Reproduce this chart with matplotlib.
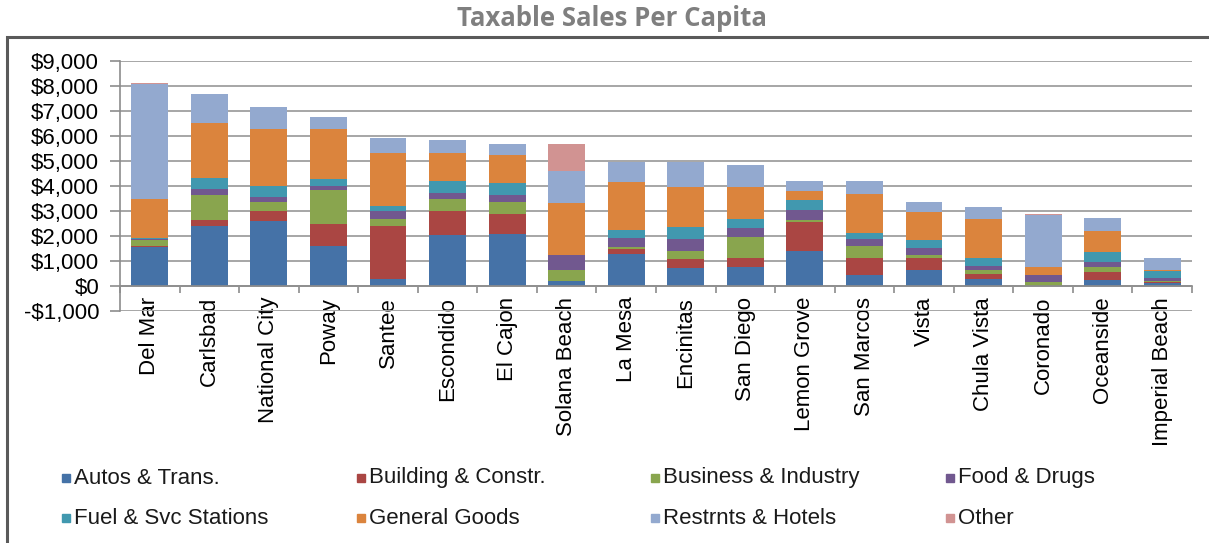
import matplotlib
matplotlib.use("Agg")
import matplotlib.pyplot as plt
from matplotlib.patches import Rectangle
from matplotlib.ticker import FuncFormatter, MultipleLocator
import numpy as np

cities = ["Del Mar", "Carlsbad", "National City", "Poway", "Santee", "Escondido",
          "El Cajon", "Solana Beach", "La Mesa", "Encinitas", "San Diego",
          "Lemon Grove", "San Marcos", "Vista", "Chula Vista", "Coronado",
          "Oceanside", "Imperial Beach"]

autos    = [1550, 2400, 2600, 1600,  270, 2015, 2085,  175, 1280,  710,  750, 1390,  425,  640,  265,    0,  215, 120]
building = [  30,  215,  375,  870, 2135,  960,  800,   10,  175,  360,  370, 1175,  695,  480,  215,    0,  320,  15]
business = [ 250, 1000,  375, 1360,  255,  480,  465,  455,   95,  320,  840,   65,  480,  105,  160,  160,  215,  40]
food     = [  50,  240,  215,  160,  320,  265,  270,  590,  375,  480,  335,  400,  265,  270,  160,  265,  215, 145]
fuel     = [  20,  470,  440,  265,  225,  480,  480,    0,  320,  480,  360,  390,  265,  320,  320,    0,  375, 265]
general  = [1570, 2175, 2285, 2030, 2125, 1120, 1120, 2080, 1910, 1600, 1295,  375, 1550, 1120, 1535,  320,  855,  55]
restr    = [4590, 1160,  880,  480,  575,  535,  465, 1270,  800, 1000,  895,  415,  520,  415,  480, 2080,  535, 480]
other    = [  40,    0,    0,    0,    0,    0,    0, 1110,    0,    0,    0,    0,    0,    0,    0,   55,    0,   0]

series_names = ["Autos & Trans.", "Building & Constr.", "Business & Industry",
                "Food & Drugs", "Fuel & Svc Stations", "General Goods",
                "Restrnts & Hotels", "Other"]
series_values = [autos, building, business, food, fuel, general, restr, other]
series_colors = ["#4572A7", "#AA4643", "#89A54E", "#71588F",
                 "#4198AF", "#DB843D", "#93A9CF", "#D19392"]

plt.rcParams["font.family"] = ["Liberation Sans", "DejaVu Sans"]
FS = 16

W, H = 1209, 543
fig = plt.figure(figsize=(W / 100, H / 100), dpi=100)

# outer chart frame (continues past the right and bottom edges)
fig.patches.append(Rectangle((7 / W, -0.1), 1.2, 1 - 37 / H + 0.1,
                             transform=fig.transFigure, fill=False,
                             edgecolor="#5a5a5a", linewidth=2.2, zorder=0))

fig.text(612 / W, 1 - 18 / H, "Taxable Sales Per Capita", ha="center", va="center",
         fontsize=18.5, fontweight="bold", color="#7f7f7f", family="Open Sans")

ax = fig.add_axes([120 / W, 1 - 310.7 / H, (1192 - 120) / W, (310.7 - 61) / H])

x = np.arange(len(cities))
bottom = np.zeros(len(cities))
for name, vals, col in zip(series_names, series_values, series_colors):
    vals = np.array(vals, dtype=float)
    ax.bar(x, vals, width=0.62, bottom=bottom, color=col, label=name,
           edgecolor="none", zorder=3)
    bottom += vals

ax.set_xlim(-0.5, len(cities) - 0.5)
ax.set_ylim(-1000, 9000)
ax.yaxis.set_major_locator(MultipleLocator(1000))
ax.yaxis.set_major_formatter(FuncFormatter(
    lambda v, p: ("-$" if v < 0 else "$") + f"{abs(int(v)):,}"))
ax.grid(axis="y", color="#a6a6a6", linewidth=1.4, zorder=0)

for s in ["top", "right"]:
    ax.spines[s].set_visible(False)
ax.spines["left"].set_color("#8c8c8c")
ax.spines["left"].set_linewidth(1.2)
ax.spines["bottom"].set_position(("data", 0))
ax.spines["bottom"].set_color("#8c8c8c")
ax.spines["bottom"].set_linewidth(1.2)
ax.spines["bottom"].set_zorder(4)

ax.set_xticks(x)
ax.set_xticklabels(cities, rotation=90, fontsize=FS)
ax.set_xticks(np.arange(len(cities) + 1) - 0.5, minor=True)
ax.tick_params(axis="x", which="major", length=0, pad=8)
ax.tick_params(axis="x", which="minor", length=5, width=1.2, color="#8c8c8c")
ax.tick_params(axis="y", length=7, width=1.2, color="#8c8c8c", labelsize=FS, pad=8)
for lab in ax.get_xticklabels():
    lab.set_verticalalignment("top")

# legend laid out in four evenly spaced columns
col_x = [62, 357, 651, 946]
row_y = [478, 518]
for i, (name, col) in enumerate(zip(series_names, series_colors)):
    cx = col_x[i % 4]
    cy = row_y[i // 4]
    fig.patches.append(Rectangle((cx / W, 1 - (cy + 4) / H), 8 / W, 8 / H,
                                 transform=fig.transFigure, color=col))
    fig.text((cx + 12) / W, 1 - cy / H, name, ha="left", va="center",
             fontsize=FS, color="#1a1a1a")

fig.savefig("out.png", dpi=100)
